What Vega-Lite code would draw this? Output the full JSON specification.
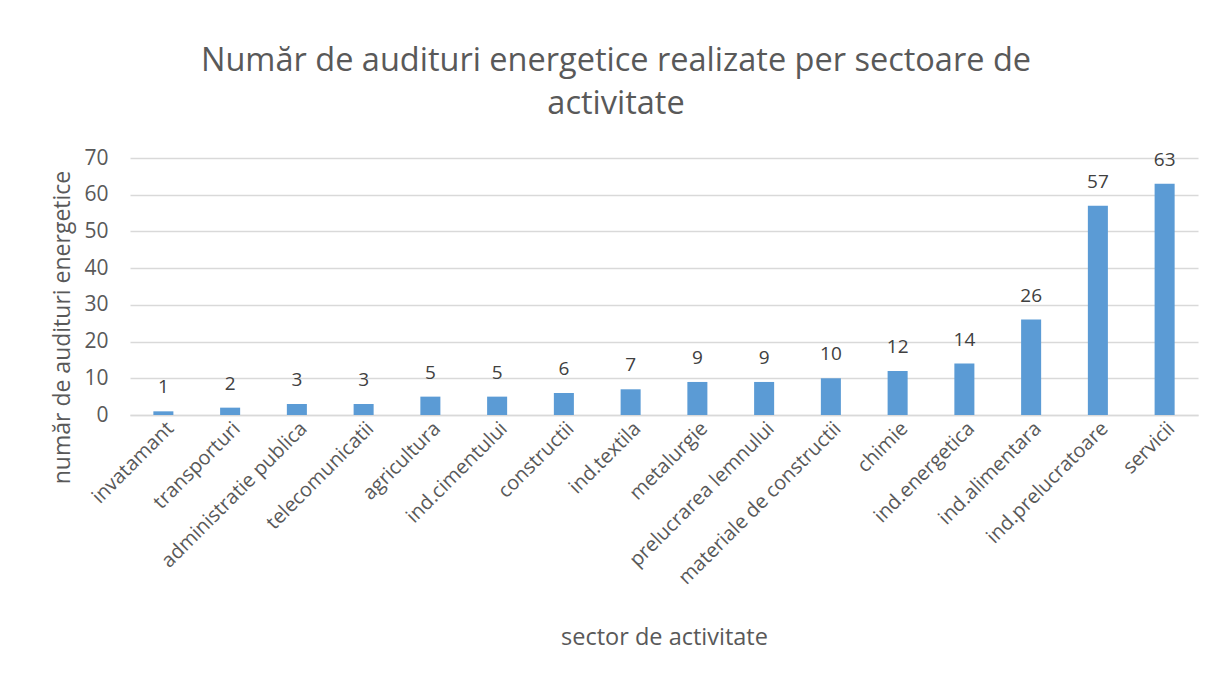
{
  "$schema": "https://vega.github.io/schema/vega-lite/v6.json",
  "autosize": {"type": "none"},
  "width": 1068,
  "height": 257,
  "padding": {"left": 130, "top": 158, "right": 13, "bottom": 267},
  "background": "white",
  "config": {
    "font": "Open Sans",
    "view": {"stroke": null}
  },
  "title": {
    "text": ["Număr de audituri energetice realizate per sectoare de", "activitate"],
    "fontSize": 32.5,
    "fontWeight": "normal",
    "color": "#595959",
    "font": "Open Sans",
    "lineHeight": 43,
    "anchor": "middle",
    "dx": -48,
    "offset": 27
  },
  "data": {
    "values": [
      {"sector": "invatamant", "n": 1},
      {"sector": "transporturi", "n": 2},
      {"sector": "administratie publica", "n": 3},
      {"sector": "telecomunicatii", "n": 3},
      {"sector": "agricultura", "n": 5},
      {"sector": "ind.cimentului", "n": 5},
      {"sector": "constructii", "n": 6},
      {"sector": "ind.textila", "n": 7},
      {"sector": "metalurgie", "n": 9},
      {"sector": "prelucrarea lemnului", "n": 9},
      {"sector": "materiale de constructii", "n": 10},
      {"sector": "chimie", "n": 12},
      {"sector": "ind.energetica", "n": 14},
      {"sector": "ind.alimentara", "n": 26},
      {"sector": "ind.prelucratoare", "n": 57},
      {"sector": "servicii", "n": 63}
    ]
  },
  "encoding": {
    "x": {
      "field": "sector",
      "type": "nominal",
      "sort": null,
      "scale": {"paddingInner": 0.7, "paddingOuter": 0.35},
      "axis": {
        "title": "sector de activitate",
        "titleFontSize": 23.5,
        "titleFontWeight": "normal",
        "titleColor": "#595959",
        "titleY": 222,
        "titleBaseline": "middle",
        "labelAngle": -45,
        "labelFontSize": 20,
        "labelColor": "#595959",
        "labelPadding": 3,
        "labelLimit": 400,
        "ticks": false,
        "domainColor": "#d9d9d9",
        "domainWidth": 1.5,
        "grid": false,
        "labelOverlap": false
      }
    },
    "y": {
      "field": "n",
      "type": "quantitative",
      "scale": {"domain": [0, 70]},
      "axis": {
        "title": "număr de audituri energetice",
        "titleFontSize": 23,
        "titleFontWeight": "normal",
        "titleColor": "#595959",
        "titleX": -68,
        "titleY": 169,
        "titleBaseline": "middle",
        "titleAlign": "center",
        "values": [0, 10, 20, 30, 40, 50, 60, 70],
        "labelFontSize": 21,
        "labelColor": "#595959",
        "labelPadding": 22,
        "ticks": false,
        "domain": false,
        "gridColor": "#d9d9d9",
        "gridWidth": 1.5
      }
    }
  },
  "layer": [
    {"mark": {"type": "bar", "color": "#5B9BD5"}},
    {
      "mark": {"type": "text", "baseline": "bottom", "dy": -14, "fontSize": 19, "color": "#404040"},
      "encoding": {"text": {"field": "n", "type": "quantitative"}}
    }
  ]
}
